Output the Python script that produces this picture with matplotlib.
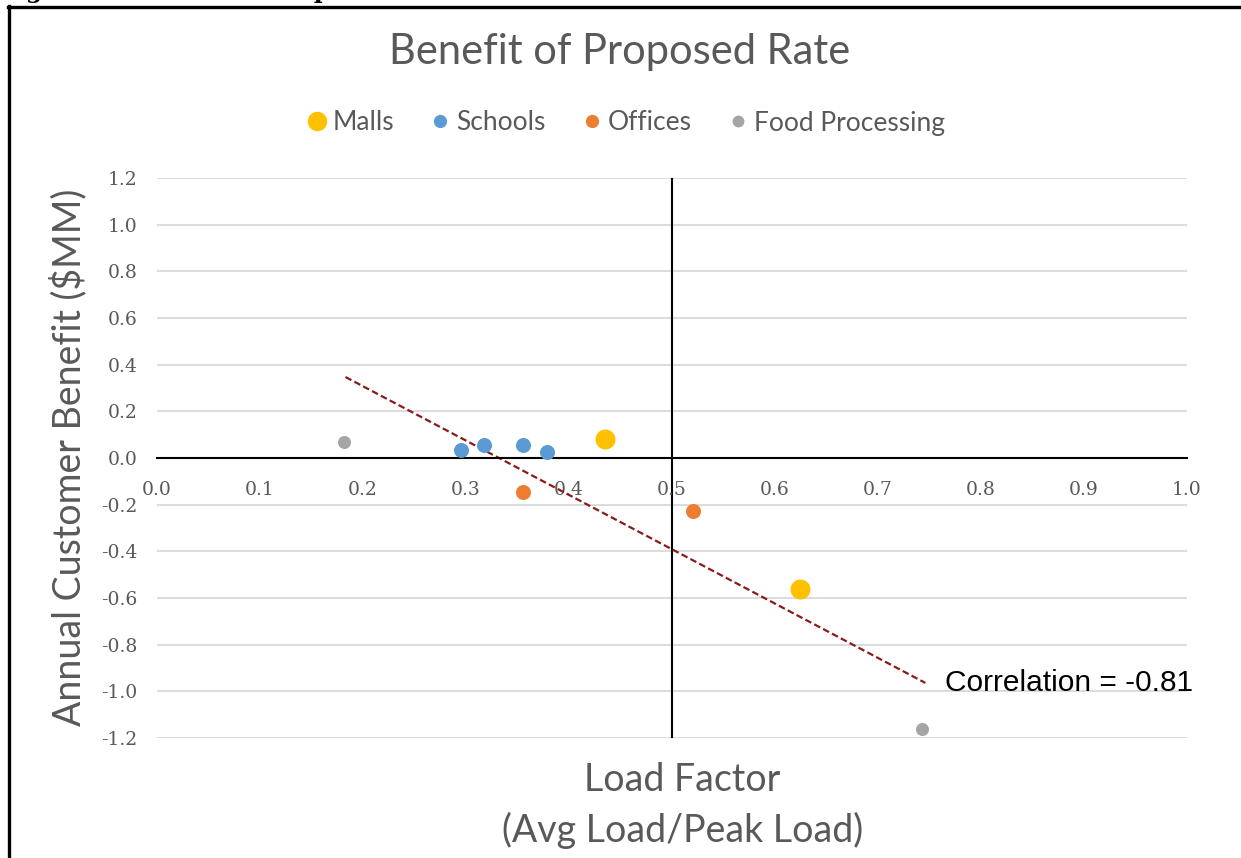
import matplotlib
matplotlib.use("Agg")
import matplotlib.pyplot as plt
from matplotlib.lines import Line2D

# Load factor (x) and annual customer benefit in $MM (y) per segment
malls_x = [0.435, 0.624]
malls_y = [0.081, -0.561]
schools_x = [0.295, 0.317, 0.355, 0.379]
schools_y = [0.034, 0.056, 0.056, 0.026]
offices_x = [0.355, 0.520]
offices_y = [-0.146, -0.227]
food_x = [0.182, 0.743]
food_y = [0.069, -1.160]

# Linear trendline end points
trend_x = [0.183, 0.746]
trend_y = [0.347, -0.964]
correlation = -0.81

x_ticks = [0.0, 0.1, 0.2, 0.3, 0.4, 0.5, 0.6, 0.7, 0.8, 0.9, 1.0]
y_ticks = [1.2, 1.0, 0.8, 0.6, 0.4, 0.2, 0.0, -0.2, -0.4, -0.6, -0.8, -1.0, -1.2]

C_MALLS = "#FFC000"
C_SCHOOLS = "#5B9BD5"
C_OFFICES = "#ED7D31"
C_FOOD = "#A5A5A5"
TXT = "#595959"
SANS = ["Lato", "DejaVu Sans"]
SERIF = ["DejaVu Serif"]

fig = plt.figure(figsize=(12.41, 8.58), dpi=100)
ax = fig.add_axes([157 / 1241, 1 - 738 / 858, 1030 / 1241, 560 / 858])

ax.set_xlim(0, 1)
ax.set_ylim(-1.2, 1.2)

# gridlines
for yv in y_ticks:
    if yv != 0:
        ax.axhline(yv, color="#D9D9D9", lw=1.3, zorder=0)
ax.axvline(0.5, color="black", lw=1.5, zorder=1)

for s in ["top", "right", "left"]:
    ax.spines[s].set_visible(False)
ax.spines["bottom"].set_position(("data", 0))
ax.spines["bottom"].set_color("black")
ax.spines["bottom"].set_linewidth(1.5)

ax.set_xticks(x_ticks)
ax.set_xticklabels([f"{v:.1f}" for v in x_ticks])
ax.set_yticks(y_ticks)
ax.set_yticklabels([f"{v:.1f}" for v in y_ticks])
ax.tick_params(axis="x", length=0, pad=16.5, labelsize=13.5, labelcolor=TXT)
ax.tick_params(axis="y", length=0, pad=14, labelsize=13.5, labelcolor=TXT)
for lab in ax.get_xticklabels() + ax.get_yticklabels():
    lab.set_family(SERIF)

ax.plot(trend_x, trend_y, ls=(0, (3, 1.5)), color="#8B1A1A", lw=1.6, zorder=2)

ax.scatter(food_x, food_y, s=88, color=C_FOOD, zorder=3, linewidths=0)
ax.scatter(schools_x, schools_y, s=117, color=C_SCHOOLS, zorder=3, linewidths=0)
ax.scatter(offices_x, offices_y, s=117, color=C_OFFICES, zorder=3, linewidths=0)
ax.scatter(malls_x, malls_y, s=207, color=C_MALLS, zorder=3, linewidths=0)

ax.text(0.765, -0.964, f"Correlation = {correlation:.2f}", ha="left", va="center",
        fontsize=21.5, family=["Liberation Sans"], color="black")

# title, legend, axis titles
fig.text(620 / 1241, 1 - 52 / 858, "Benefit of Proposed Rate", ha="center", va="center",
         fontsize=30, color=TXT, family=SANS)

handles = [
    Line2D([], [], ls="none", marker="o", ms=14, color=C_MALLS, mew=0),
    Line2D([], [], ls="none", marker="o", ms=9.5, color=C_SCHOOLS, mew=0),
    Line2D([], [], ls="none", marker="o", ms=9.5, color=C_OFFICES, mew=0),
    Line2D([], [], ls="none", marker="o", ms=8.5, color=C_FOOD, mew=0),
]
leg = fig.legend(handles, ["Malls", "Schools", "Offices", "Food Processing"],
                 loc="center", bbox_to_anchor=(624 / 1241, 1 - 123 / 858), ncol=4,
                 frameon=False, handletextpad=0.1, columnspacing=1.25,
                 handlelength=1.0, prop={"family": SANS, "size": 19})
for t in leg.get_texts():
    t.set_color(TXT)

fig.text(682 / 1241, 1 - 780 / 858, "Load Factor", ha="center", va="center",
         fontsize=27, color=TXT, family=SANS)
fig.text(683 / 1241, 1 - 830 / 858, "(Avg Load/Peak Load)", ha="center", va="center",
         fontsize=27, color=TXT, family=SANS)
fig.text(68 / 1241, 1 - 457 / 858, "Annual Customer Benefit ($MM)", ha="center",
         va="center", rotation=90, fontsize=27, color=TXT, family=SANS)

# caption above the frame, mostly cut off by the top edge
fig.text(0.0, 1 + 2 / 858, "Figure 4: Benefit of Proposed Rate", ha="left",
         va="baseline", fontsize=17, weight="bold", family=["DejaVu Serif"],
         color="black")

# frame around the chart
fig.add_artist(Line2D([8.5 / 1241, 8.5 / 1241], [0, 1 - 6 / 858], color="black",
                      lw=2.4, transform=fig.transFigure))
fig.add_artist(Line2D([7.5 / 1241, 1], [1 - 6.5 / 858, 1 - 6.5 / 858], color="black",
                      lw=2.4, transform=fig.transFigure))

fig.savefig("out.png", dpi=100)
